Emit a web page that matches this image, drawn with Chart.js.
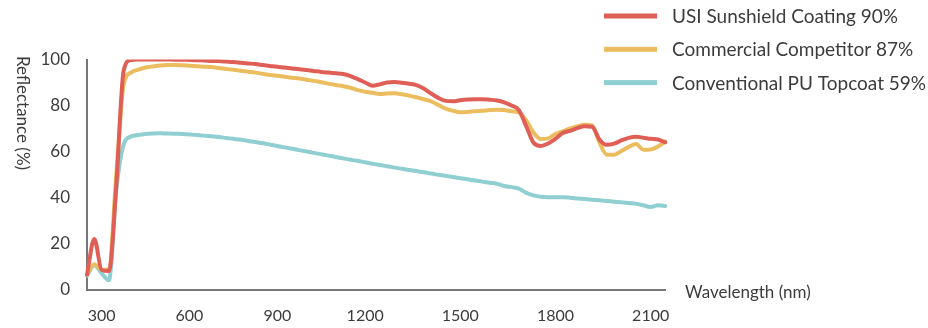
<!DOCTYPE html>
<html>
<head>
<meta charset="utf-8">
<script src="https://cdn.jsdelivr.net/npm/chart.js@4"></script>
<style>
  html, body { margin: 0; padding: 0; background: #fff; }
  #wrap { width: 928px; height: 328px; }
</style>
</head>
<body>
<div id="wrap"><canvas id="myChart"></canvas></div>
<script>

// wavelength (nm) of each sample
const wavelengths = [
    250, 275, 300, 325, 350, 375, 400, 425, 450, 475, 500, 525, 550, 575, 600, 625, 650, 675, 700, 725,
    750, 775, 800, 825, 850, 875, 900, 925, 950, 975, 1000, 1025, 1050, 1075, 1100, 1125, 1150, 1175, 1200,
    1223, 1246, 1269, 1292, 1315, 1338, 1362, 1385, 1408, 1431, 1454, 1477, 1500,
    1523, 1546, 1569, 1592, 1615, 1638, 1662, 1685, 1708, 1731, 1754, 1777, 1800,
    1823, 1846, 1869, 1892, 1915, 1938, 1962, 1985, 2008, 2031, 2054, 2077, 2100,
    2123, 2146
];

const tickLabels = ['300', '600', '900', '1200', '1500', '1800', '2100'];
const yTicks = [0, 20, 40, 60, 80, 100];

const usiSunshield = [
    6.5, 22, 8.5, 8, 45, 95, 99.8, 100, 100.1, 100, 100, 100, 99.9, 99.9, 99.8, 99.7, 99.6, 99.4, 99.3, 99.1,
    98.9, 98.6, 98.3, 98.0, 97.6, 97.2, 96.8, 96.5, 96.1, 95.8, 95.4, 95.0, 94.6, 94.3, 94.0, 93.7, 92.8, 91.5, 90.0,
    88.6, 89.2, 90.0, 90.2, 89.9, 89.5, 88.9, 87.4, 85.2, 83.3, 82.0, 81.8, 82.3,
    82.6, 82.7, 82.7, 82.5, 82.2, 81.4, 80.0, 78.0, 71.0, 63.8, 62.4, 63.5, 65.5,
    68.0, 69.0, 70.2, 71.0, 70.8, 65.2, 62.9, 63.4, 64.8, 65.9, 66.4, 66.0, 65.5,
    65.2, 64.0
];

const commercialCompetitor = [
    6.5, 11, 8.5, 9, 50, 89, 94.3, 95.6, 96.5, 97, 97.4, 97.6, 97.6, 97.5, 97.3, 97.1, 96.9, 96.7, 96.3, 95.9,
    95.5, 95.1, 94.7, 94.3, 93.8, 93.3, 92.9, 92.5, 92.1, 91.7, 91.2, 90.7, 90.1, 89.5, 88.9, 88.4, 87.7, 86.7, 86.0,
    85.5, 85.0, 85.2, 85.3, 84.9, 84.3, 83.6, 82.7, 81.8, 80.2, 78.6, 77.7, 77.1,
    77.2, 77.5, 77.7, 78.0, 78.2, 78.0, 77.5, 77.0, 73.5, 68.2, 65.4, 65.7, 67.6,
    68.8, 70.0, 71.0, 71.6, 71.3, 64.0, 58.6, 58.6, 60.2, 62.0, 63.3, 60.8, 60.9,
    62.2, 64.3
];

const conventionalPU = [
    6, 10.5, 7, 4, 43, 63, 66.5, 67.2, 67.6, 67.8, 67.9, 67.8, 67.7, 67.6, 67.4, 67.2, 66.9, 66.6, 66.3, 65.9,
    65.5, 65.1, 64.6, 64.1, 63.6, 63.0, 62.4, 61.8, 61.2, 60.6, 60.0, 59.4, 58.8, 58.2, 57.6, 57.0, 56.4, 55.9, 55.3,
    54.7, 54.1, 53.6, 53.0, 52.5, 52.0, 51.5, 51.0, 50.4, 49.9, 49.4, 48.9, 48.4,
    47.9, 47.4, 46.9, 46.4, 46.0, 45.0, 44.5, 43.9, 42.0, 40.9, 40.3, 40.1, 40.1,
    40.1, 39.9, 39.6, 39.3, 39.0, 38.8, 38.5, 38.2, 37.9, 37.6, 37.3, 36.6, 35.9,
    36.6, 36.3
];

const RED = '#df5f57';
const YELLOW = '#ebbd5e';
const TEAL = '#8fcfd2';
const TEXT = '#3c3c3c';
const FONT = 'Lato';

// legend + axis titles drawn by hand, the reference puts them where chart.js won't
const extras = {
    id: 'extras',
    afterDraw(chart) {
        const c = chart.ctx;
        const area = chart.chartArea;
        c.save();
        c.fillStyle = TEXT;
        c.textBaseline = 'middle';

        // legend, top right
        c.font = '19px ' + FONT;
        c.textAlign = 'left';
        chart.data.datasets.forEach((ds, i) => {
            const y = 16 + i * 33.3;
            c.fillStyle = ds.borderColor;
            c.fillRect(604, y - 2.5, 53, 5);
            c.fillStyle = TEXT;
            c.fillText(ds.label, 672, y + 1);
        });

        // x title, right of the axis end
        c.font = '17px ' + FONT;
        c.fillText('Wavelength (nm)', 685, area.bottom + 3);

        // y title, rotated clockwise
        c.translate(22, 113);
        c.rotate(Math.PI / 2);
        c.textAlign = 'center';
        c.fillText('Reflectance (%)', 0, 0);
        c.restore();
    }
};

const ctx = document.getElementById('myChart');

new Chart(ctx, {
    type: 'line',
    data: {
        labels: wavelengths,
        datasets: [
            {
                label: 'USI Sunshield Coating 90%',
                data: usiSunshield,
                borderWidth: 4,
                borderColor: RED,
                backgroundColor: RED,
            },
            {
                label: 'Commercial Competitor 87%',
                data: commercialCompetitor,
                borderWidth: 4,
                borderColor: YELLOW,
                backgroundColor: YELLOW,
            },
            {
                label: 'Conventional PU Topcoat 59%',
                data: conventionalPU,
                borderWidth: 4,
                borderColor: TEAL,
                backgroundColor: TEAL,
            },
        ]
    },
    options: {
        responsive: true,
        maintainAspectRatio: false,
        devicePixelRatio: 1,
        animation: false,
        layout: {
            padding: { left: 0, right: 262.7, top: 59.5, bottom: 0 }
        },
        elements: {
            point: { radius: 0 },
            line: { cubicInterpolationMode: 'monotone', borderCapStyle: 'round', borderJoinStyle: 'round' }
        },
        plugins: {
            legend: { display: false },
            tooltip: { enabled: false }
        },
        scales: {
            x: {
                type: 'category',
                grid: { display: false, drawTicks: false },
                border: { display: true, color: '#777', width: 2 },
                afterFit: (s) => { s.height = 38.5; },
                ticks: {
                    autoSkip: false,
                    maxRotation: 0,
                    minRotation: 0,
                    padding: 17,
                    color: TEXT,
                    font: { family: FONT, size: 16 },
                    callback: function (value) {
                        const lab = String(this.getLabelForValue(value));
                        return tickLabels.includes(lab) ? lab : '';
                    }
                }
            },
            y: {
                min: yTicks[0],
                max: yTicks[yTicks.length - 1],
                grid: { display: false, drawTicks: false },
                border: { display: true, color: '#777', width: 2 },
                afterFit: (s) => { s.width = 87; },
                afterBuildTicks: (s) => { s.ticks = yTicks.map(v => ({ value: v })); },
                ticks: {
                    padding: 17,
                    color: TEXT,
                    font: { family: FONT, size: 17 }
                }
            }
        }
    },
    plugins: [extras]
});
</script>
</body>
</html>
